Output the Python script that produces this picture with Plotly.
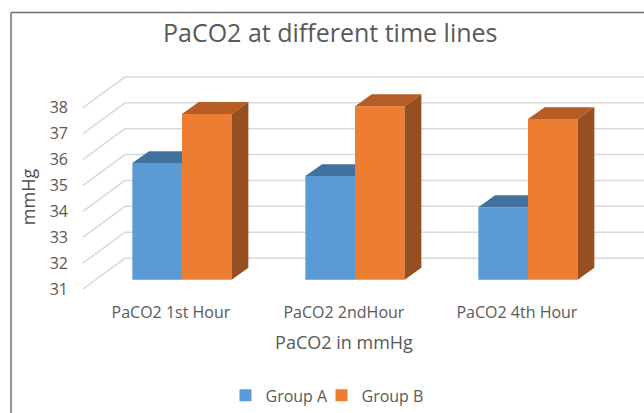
import plotly.graph_objects as go

categories = ["PaCO2 1st Hour", "PaCO2 2ndHour", "PaCO2 4th Hour"]
group_a = [35.5, 35.0, 33.8]
group_b = [37.4, 37.7, 37.2]
y_ticks = [31, 32, 33, 34, 35, 36, 37, 38]

TEXT = "#595959"
FONT = "Open Sans"
BLUE, BLUE_TOP = "#5B9BD5", "#41719C"
ORANGE, ORANGE_TOP, ORANGE_SIDE = "#ED7D31", "#B55D24", "#954F20"
GRID = "#D9D9D9"
FRAME = "#6E6E6E"

# 3-D look, in axis units
BAR_W = 0.287          # bar width, in categories
DEPTH_X = 0.0965       # bar depth, sideways
DEPTH_Y = 0.46         # bar depth, upward
WALL_X = 0.243         # back wall offset from the front edge
WALL_Y = 1.19
LIFT = 0.36            # bars stand this far above the front edge of the floor
LABEL_SHIFT = 0.064    # category labels sit left of the bars

# plot area in pixels; it runs wider than the axes so the axis titles centre as in the chart
M_L, M_T, M_R, M_B = 44, 70, 0, 87
PLOT_W, PLOT_H = 644 - M_L - M_R, 413 - M_T - M_B
PX_X, PX_Y = 173.0, 26.1     # pixels per category, pixels per mmHg
Y_AXIS_PX, X_AXIS_PX = 83, 300
X0_PX, Y31_PX = 182, 290.7

X_RANGE = [(M_L - X0_PX) / PX_X, (644 - X0_PX) / PX_X]
Y_RANGE = [31 - (413 - M_B - Y31_PX) / PX_Y, 31 + (Y31_PX - M_T) / PX_Y]
X_FRONT = (Y_AXIS_PX - X0_PX) / PX_X
BASE = y_ticks[0]


def paper_x(px):
    return (px - M_L) / PLOT_W


def paper_y(px):
    return (413 - M_B - px) / PLOT_H


idx = list(range(len(categories)))
fig = go.Figure()

fig.add_bar(x=idx, y=[v - BASE for v in group_a], base=BASE, name="Group A", legendwidth=51,
            marker=dict(color=BLUE, line_width=0), xaxis="x", yaxis="y2")
fig.add_bar(x=idx, y=[v - BASE for v in group_b], base=BASE, name="Group B",
            marker=dict(color=ORANGE, line_width=0), xaxis="x", yaxis="y2")


def face(xs, ys, color):
    fig.add_scatter(x=xs, y=ys, fill="toself", fillcolor=color, mode="lines",
                    line=dict(width=0, color=color), showlegend=False,
                    hoverinfo="skip", xaxis="x", yaxis="y2")


for i, a, b in zip(idx, group_a, group_b):
    # Group A top, cut where Group B's front begins
    face([i - BAR_W, i - BAR_W + DEPTH_X, i, i, i - BAR_W],
         [a, a + DEPTH_Y, a + DEPTH_Y, a, a], BLUE_TOP)
    # Group B top
    face([i, i + DEPTH_X, i + BAR_W + DEPTH_X, i + BAR_W, i],
         [b, b + DEPTH_Y, b + DEPTH_Y, b, b], ORANGE_TOP)
    # Group B side
    face([i + BAR_W, i + BAR_W + DEPTH_X, i + BAR_W + DEPTH_X, i + BAR_W, i + BAR_W],
         [b, b + DEPTH_Y, BASE + DEPTH_Y, BASE, b], ORANGE_SIDE)

shapes = []
for t in y_ticks:
    shapes.append(dict(type="line", xref="x", yref="y", layer="below",
                       x0=X_FRONT, y0=t, x1=X_FRONT + WALL_X, y1=t + WALL_Y,
                       line=dict(color=GRID, width=1.5)))
    shapes.append(dict(type="line", xref="x", yref="y", layer="below",
                       x0=X_FRONT + WALL_X, y0=t + WALL_Y, x1=X_RANGE[1], y1=t + WALL_Y,
                       line=dict(color=GRID, width=1.5)))
# frame of the chart: left and top edges
shapes.append(dict(type="line", xref="paper", yref="paper", x0=paper_x(11), y0=paper_y(420),
                   x1=paper_x(11), y1=paper_y(12), line=dict(color=FRAME, width=1.5)))
shapes.append(dict(type="line", xref="paper", yref="paper", x0=paper_x(11), y0=paper_y(12),
                   x1=paper_x(650), y1=paper_y(12), line=dict(color=FRAME, width=1.5)))

fig.update_layout(
    width=644, height=413,
    margin=dict(l=M_L, r=M_R, t=M_T, b=M_B),
    paper_bgcolor="white", plot_bgcolor="rgba(0,0,0,0)",
    font=dict(family=FONT, color=TEXT),
    barmode="group", bargap=1 - 2 * BAR_W, bargroupgap=0,
    shapes=shapes,
    showlegend=True,
    legend=dict(orientation="h", x=paper_x(327), xref="paper", xanchor="center",
                y=paper_y(398), yanchor="middle", font=dict(size=16, color=TEXT),
                itemwidth=30, traceorder="normal"),
    xaxis=dict(range=X_RANGE, tickmode="array", anchor="free", position=paper_y(X_AXIS_PX),
               tickvals=[i - LABEL_SHIFT for i in idx], ticktext=categories,
               tickfont=dict(size=16, color=TEXT), showgrid=False, zeroline=False,
               showline=False, ticks="", ticklabelstandoff=3,
               title=dict(text="PaCO2 in mmHg", font=dict(size=18, color=TEXT), standoff=14)),
    yaxis=dict(range=Y_RANGE, tickmode="array", tickvals=y_ticks, anchor="free",
               position=paper_x(Y_AXIS_PX),
               tickfont=dict(size=16, color=TEXT), showgrid=False, zeroline=False,
               showline=False, ticks="", ticklabelstandoff=15,
               title=dict(text="mmHg", font=dict(size=18, color="#505050"), standoff=8)),
    yaxis2=dict(range=[Y_RANGE[0] - LIFT, Y_RANGE[1] - LIFT], overlaying="y", anchor="x",
                visible=False),
    annotations=[dict(text="PaCO2 at different time lines", xref="paper", yref="paper",
                      x=paper_x(330), y=paper_y(32), yanchor="middle",
                      xanchor="center", showarrow=False, font=dict(size=25, color=TEXT))],
)

fig.write_html("out.html", post_script="document.body.style.margin='0';",
               config={"displayModeBar": False})
